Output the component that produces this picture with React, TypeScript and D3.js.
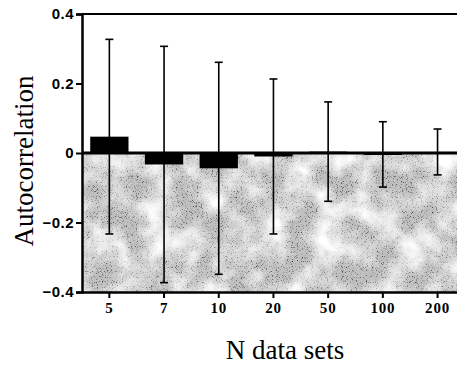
import { useEffect, useRef } from "react"
import * as d3 from "d3"

const categories = ["5", "7", "10", "20", "50", "100", "200"]
const means = [0.047, -0.033, -0.044, -0.01, 0.004, -0.004, 0.003]
const errors = [0.28, 0.34, 0.305, 0.223, 0.143, 0.094, 0.066]
const yTicks = [-0.4, -0.2, 0, 0.2, 0.4]

export default function App() {
  const svgRef = useRef<SVGSVGElement>(null)

  useEffect(() => {
    if (!svgRef.current) return
    const W = 457
    const H = 365
    const left = 82
    const top = 14
    const bottom = 292
    const step = 54.7

    const svg = d3.select(svgRef.current)
    svg.selectAll("*").remove()
    svg.attr("width", W).attr("height", H)

    const x = d3
      .scaleBand()
      .domain(categories)
      .range([left, left + step * categories.length])
      .paddingInner(0.3)
      .paddingOuter(0.15)
    const y = d3.scaleLinear().domain([-0.4, 0.4]).range([bottom, top])

    // stipple texture for the negative half: black dots + pale blotches over grey
    const defs = svg.append("defs")
    const filter = defs
      .append("filter")
      .attr("id", "stipple")
      .attr("x", 0)
      .attr("y", 0)
      .attr("width", 1)
      .attr("height", 1)
      .attr("color-interpolation-filters", "sRGB")
    filter
      .append("feTurbulence")
      .attr("type", "fractalNoise")
      .attr("baseFrequency", 1.2)
      .attr("numOctaves", 1)
      .attr("seed", 3)
      .attr("result", "fine")
    filter
      .append("feColorMatrix")
      .attr("in", "fine")
      .attr("type", "matrix")
      .attr("values", "0 0 0 0 0.15  0 0 0 0 0.15  0 0 0 0 0.15  4 0 0 0 -2.3")
      .attr("result", "dots")
    filter
      .append("feTurbulence")
      .attr("type", "fractalNoise")
      .attr("baseFrequency", 0.035)
      .attr("numOctaves", 3)
      .attr("seed", 7)
      .attr("result", "coarse")
    filter
      .append("feColorMatrix")
      .attr("in", "coarse")
      .attr("type", "matrix")
      .attr("values", "0 0 0 0 1  0 0 0 0 1  0 0 0 0 1  2.2 0 0 0 -0.75")
      .attr("result", "blotch")
    const merge = filter.append("feMerge")
    merge.append("feMergeNode").attr("in", "SourceGraphic")
    merge.append("feMergeNode").attr("in", "dots")
    merge.append("feMergeNode").attr("in", "blotch")

    svg
      .append("rect")
      .attr("x", left)
      .attr("y", y(0))
      .attr("width", W - left)
      .attr("height", y(-0.4) - y(0))
      .attr("fill", "#c0c0c0")
      .attr("filter", "url(#stipple)")

    // bars
    svg
      .selectAll("rect.bar")
      .data(categories)
      .enter()
      .append("rect")
      .attr("class", "bar")
      .attr("x", (d) => x(d)!)
      .attr("width", x.bandwidth())
      .attr("y", (_, i) => y(Math.max(0, means[i])))
      .attr("height", (_, i) => Math.max(Math.abs(y(means[i]) - y(0)), 2))
      .attr("fill", "#000")

    // error bars
    const eb = svg
      .selectAll("g.err")
      .data(categories)
      .enter()
      .append("g")
      .attr("class", "err")
      .attr("stroke", "#000")
      .attr("stroke-width", 1.6)
    const cx = (d: string) => x(d)! + x.bandwidth() / 2
    eb.append("line")
      .attr("x1", cx)
      .attr("x2", cx)
      .attr("y1", (_, i) => y(means[i] + errors[i]))
      .attr("y2", (_, i) => y(means[i] - errors[i]))
    eb.append("line")
      .attr("x1", (d) => cx(d) - 4)
      .attr("x2", (d) => cx(d) + 4)
      .attr("y1", (_, i) => y(means[i] + errors[i]))
      .attr("y2", (_, i) => y(means[i] + errors[i]))
    eb.append("line")
      .attr("x1", (d) => cx(d) - 4)
      .attr("x2", (d) => cx(d) + 4)
      .attr("y1", (_, i) => y(means[i] - errors[i]))
      .attr("y2", (_, i) => y(means[i] - errors[i]))

    // zero line
    svg
      .append("line")
      .attr("x1", left)
      .attr("x2", W)
      .attr("y1", y(0))
      .attr("y2", y(0))
      .attr("stroke", "#000")
      .attr("stroke-width", 3)

    // top frame line
    svg
      .append("line")
      .attr("x1", left)
      .attr("x2", W)
      .attr("y1", top)
      .attr("y2", top)
      .attr("stroke", "#000")
      .attr("stroke-width", 2)

    // Y axis
    const yAxis = svg
      .append("g")
      .attr("transform", `translate(${left},0)`)
      .call(
        d3
          .axisLeft(y)
          .tickValues(yTicks)
          .tickSize(6)
          .tickPadding(2)
          .tickFormat((d) => (d === 0 ? "0" : d3.format(".1f")(d as number)))
      )
    yAxis.select(".domain").attr("stroke-width", 2.5)
    yAxis.selectAll(".tick line").attr("stroke-width", 2)
    yAxis
      .selectAll("text")
      .style("font-family", "Liberation Sans, Arial, sans-serif")
      .style("font-weight", "bold")
      .style("font-size", "15px")
      .style("letter-spacing", "0.5px")
      .attr("fill", "#000")

    // X axis
    const xAxis = svg
      .append("g")
      .attr("transform", `translate(0,${bottom})`)
      .call(d3.axisBottom(x).tickSize(6).tickPadding(4).tickSizeOuter(0))
    xAxis.select(".domain").attr("stroke-width", 2.5)
    xAxis.selectAll(".tick line").attr("stroke-width", 2)
    xAxis
      .selectAll("text")
      .style("font-family", "Liberation Serif, Times New Roman, serif")
      .style("font-weight", "bold")
      .style("font-size", "15px")
      .style("letter-spacing", "0.8px")
      .attr("fill", "#000")

    // titles
    svg
      .append("text")
      .attr("transform", `translate(33,161) rotate(-90)`)
      .attr("text-anchor", "middle")
      .attr("font-family", "Liberation Serif, Times New Roman, serif")
      .attr("font-size", 27)
      .text("Autocorrelation")
    svg
      .append("text")
      .attr("x", 285)
      .attr("y", 359)
      .attr("text-anchor", "middle")
      .attr("font-family", "Liberation Serif, Times New Roman, serif")
      .attr("font-size", 27)
      .text("N data sets")
  }, [])

  return (
    <div style={{ position: "absolute", left: 0, top: 0 }}>
      <svg ref={svgRef} style={{ display: "block" }} />
    </div>
  )
}
